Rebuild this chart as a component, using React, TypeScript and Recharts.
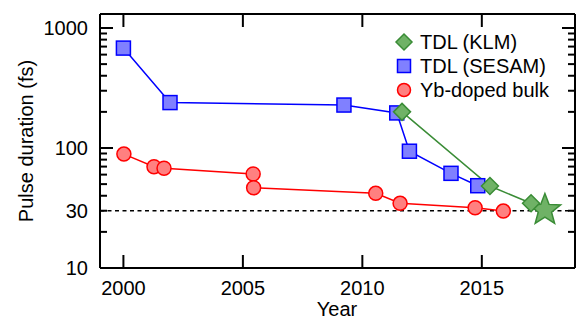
import React from 'react';
import { ComposedChart, Line, Scatter, XAxis, YAxis, ReferenceLine, Legend } from 'recharts';

const sesamYears = [2000.0, 2001.95, 2009.23, 2011.44, 2011.97, 2013.71, 2014.83];
const sesamFs = [680, 239, 228, 196, 94, 61.5, 48.5];
const klmYears = [2011.66, 2015.34, 2017.06];
const klmFs = [200, 48.2, 34.6];
const starYears = [2017.64];
const starFs = [30.4];
const ybYears = [2000.02, 2001.28, 2001.7, 2005.43, 2005.45, 2010.56, 2011.58, 2014.72, 2015.9];
const ybFs = [89, 69.8, 67.8, 60.7, 46.6, 41.9, 34.6, 31.8, 29.8];

const xTicks = [2000, 2005, 2010, 2015];
const yTicks = [10, 20, 30, 40, 50, 60, 70, 80, 90, 100, 200, 300, 400, 500, 600, 700, 800, 900, 1000];
const yMajor = [10, 100, 1000];
const yLabels = [10, 30, 100, 1000];
const limitFs = 30;

const legendItems = ['TDL (KLM)', 'TDL (SESAM)', 'Yb-doped bulk'];

const FONT = '"Liberation Sans", Arial, sans-serif';
const FS = 20;

const BLUE = '#0000ff';
const BLUE_FILL = '#8080ff';
const RED = '#ff0000';
const RED_FILL = '#ff8080';
const GREEN = '#3a8c36';
const GREEN_FILL = '#6fb266';

const zip = (xs: number[], ys: number[]) => xs.map((x, i) => ({ x, y: ys[i] }));
const sesamData = zip(sesamYears, sesamFs);
const klmData = zip(klmYears, klmFs);
const starData = zip(starYears, starFs);
const ybData = zip(ybYears, ybFs);

const Square = ({ cx, cy, s = 7 }: any) => (
  <rect x={cx - s} y={cy - s} width={2 * s} height={2 * s} fill={BLUE_FILL} stroke={BLUE} strokeWidth={1.5} />
);
const Circ = ({ cx, cy, r = 7 }: any) => (
  <circle cx={cx} cy={cy} r={r} fill={RED_FILL} stroke={RED} strokeWidth={1.5} />
);
const Diamond = ({ cx, cy, s = 8.5 }: any) => (
  <polygon
    points={`${cx},${cy - s} ${cx + s},${cy} ${cx},${cy + s} ${cx - s},${cy}`}
    fill={GREEN_FILL}
    stroke={GREEN}
    strokeWidth={1.5}
  />
);
const Star = ({ cx, cy }: any) => {
  const R = 16.5;
  const r = 7;
  const pts: string[] = [];
  for (let i = 0; i < 10; i++) {
    const a = -Math.PI / 2 + (i * Math.PI) / 5;
    const rad = i % 2 === 0 ? R : r;
    pts.push(`${cx + rad * Math.cos(a)},${cy + rad * Math.sin(a)}`);
  }
  return <polygon points={pts.join(' ')} fill={GREEN_FILL} stroke={GREEN} strokeWidth={1.5} />;
};

const LeftTick = ({ x, y, payload }: any) => {
  const v = payload.value;
  const len = yMajor.includes(v) ? 13 : 7;
  return (
    <g>
      <line x1={x} x2={x + len} y1={y} y2={y} stroke="#000" strokeWidth={2} />
      {yLabels.includes(v) && (
        <text x={x - 12} y={y} dy="0.36em" textAnchor="end" fontSize={FS} fontFamily={FONT} fill="#000">
          {v}
        </text>
      )}
    </g>
  );
};
const RightTick = ({ x, y, payload }: any) => {
  const v = payload.value;
  const len = yMajor.includes(v) ? 13 : 7;
  return <line x1={x} x2={x - len} y1={y} y2={y} stroke="#000" strokeWidth={2} />;
};
const BottomTick = ({ x, y, payload }: any) => (
  <g>
    <line x1={x} x2={x} y1={y} y2={y - 13} stroke="#000" strokeWidth={2} />
    <text x={x} y={y + 27} textAnchor="middle" fontSize={FS} fontFamily={FONT} fill="#000">
      {payload.value}
    </text>
  </g>
);
const TopTick = ({ x, y }: any) => <line x1={x} x2={x} y1={y} y2={y + 13} stroke="#000" strokeWidth={2} />;

const LegendContent = () => (
  <svg width={200} height={85} style={{ display: 'block' }}>
    {legendItems.map((name, i) => {
      const cy = 22 + i * 24;
      const cx = 24;
      return (
        <g key={name}>
          {i === 0 && <Diamond cx={cx} cy={cy} s={8} />}
          {i === 1 && <Square cx={cx} cy={cy} s={6.5} />}
          {i === 2 && <Circ cx={cx} cy={cy} r={6.5} />}
          <text x={40} y={cy} dy="0.36em" fontSize={FS} fontFamily={FONT} fill="#000">
            {name}
          </text>
        </g>
      );
    })}
  </svg>
);

export default function App() {
  return (
    <div style={{ position: 'absolute', left: 0, top: 0, width: 577, height: 322, background: '#fff' }}>
      <ComposedChart width={577} height={322} margin={{ top: 0, right: 0, bottom: 0, left: 0 }}>
        <XAxis
          xAxisId="b"
          type="number"
          dataKey="x"
          domain={[1999.02, 2018.9]}
          ticks={xTicks}
          interval={0}
          orientation="bottom"
          height={54}
          tickSize={0}
          tickMargin={0}
          axisLine={{ stroke: '#000', strokeWidth: 2 }}
          tickLine={false}
          tick={<BottomTick />}
          allowDataOverflow
        />
        <XAxis
          xAxisId="t"
          type="number"
          dataKey="x"
          domain={[1999.02, 2018.9]}
          ticks={xTicks}
          interval={0}
          orientation="top"
          height={14}
          tickSize={0}
          tickMargin={0}
          axisLine={{ stroke: '#000', strokeWidth: 2 }}
          tickLine={false}
          tick={<TopTick />}
          allowDataOverflow
        />
        <YAxis
          yAxisId="l"
          type="number"
          dataKey="y"
          scale="log"
          domain={[10, 1308]}
          ticks={yTicks}
          interval={0}
          orientation="left"
          width={100}
          tickSize={0}
          tickMargin={0}
          axisLine={{ stroke: '#000', strokeWidth: 2 }}
          tickLine={false}
          tick={<LeftTick />}
          allowDataOverflow
          label={{
            value: 'Pulse duration (fs)',
            angle: -90,
            position: 'insideLeft',
            content: ({ viewBox }: any) => (
              <text
                x={33}
                y={viewBox.y + viewBox.height / 2}
                transform={`rotate(-90, 33, ${viewBox.y + viewBox.height / 2})`}
                textAnchor="middle"
                fontSize={FS}
                fontFamily={FONT}
                fill="#000"
              >
                Pulse duration (fs)
              </text>
            ),
          }}
        />
        <YAxis
          yAxisId="r"
          type="number"
          dataKey="y"
          scale="log"
          domain={[10, 1308]}
          ticks={yTicks}
          interval={0}
          orientation="right"
          width={2}
          tickSize={0}
          tickMargin={0}
          axisLine={{ stroke: '#000', strokeWidth: 2 }}
          tickLine={false}
          tick={<RightTick />}
          allowDataOverflow
        />
        <ReferenceLine
          xAxisId="b"
          yAxisId="l"
          y={limitFs}
          stroke="#000"
          strokeWidth={1.5}
          strokeDasharray="4 3.5"
        />
        <Line
          xAxisId="b"
          yAxisId="l"
          data={ybData}
          dataKey="y"
          stroke={RED}
          strokeWidth={1.5}
          isAnimationActive={false}
          dot={(p: any) => <Circ key={`yb${p.index}`} cx={p.cx} cy={p.cy} />}
          activeDot={false}
        />
        <Line
          xAxisId="b"
          yAxisId="l"
          data={sesamData}
          dataKey="y"
          stroke={BLUE}
          strokeWidth={1.5}
          isAnimationActive={false}
          dot={(p: any) => <Square key={`s${p.index}`} cx={p.cx} cy={p.cy} />}
          activeDot={false}
        />
        <Line
          xAxisId="b"
          yAxisId="l"
          data={klmData}
          dataKey="y"
          stroke={GREEN}
          strokeWidth={1.5}
          isAnimationActive={false}
          dot={(p: any) => <Diamond key={`k${p.index}`} cx={p.cx} cy={p.cy} />}
          activeDot={false}
        />
        <Scatter
          xAxisId="b"
          yAxisId="l"
          data={starData}
          dataKey="y"
          isAnimationActive={false}
          shape={(p: any) => <Star cx={p.cx} cy={p.cy} />}
        />
        <Legend
          layout="horizontal"
          align="center"
          verticalAlign="middle"
          content={<LegendContent />}
          wrapperStyle={{ left: 380, top: 20, width: 200 }}
        />
        <text x={337} y={316} textAnchor="middle" fontSize={FS} fontFamily={FONT} fill="#000">
          Year
        </text>
      </ComposedChart>
    </div>
  );
}
